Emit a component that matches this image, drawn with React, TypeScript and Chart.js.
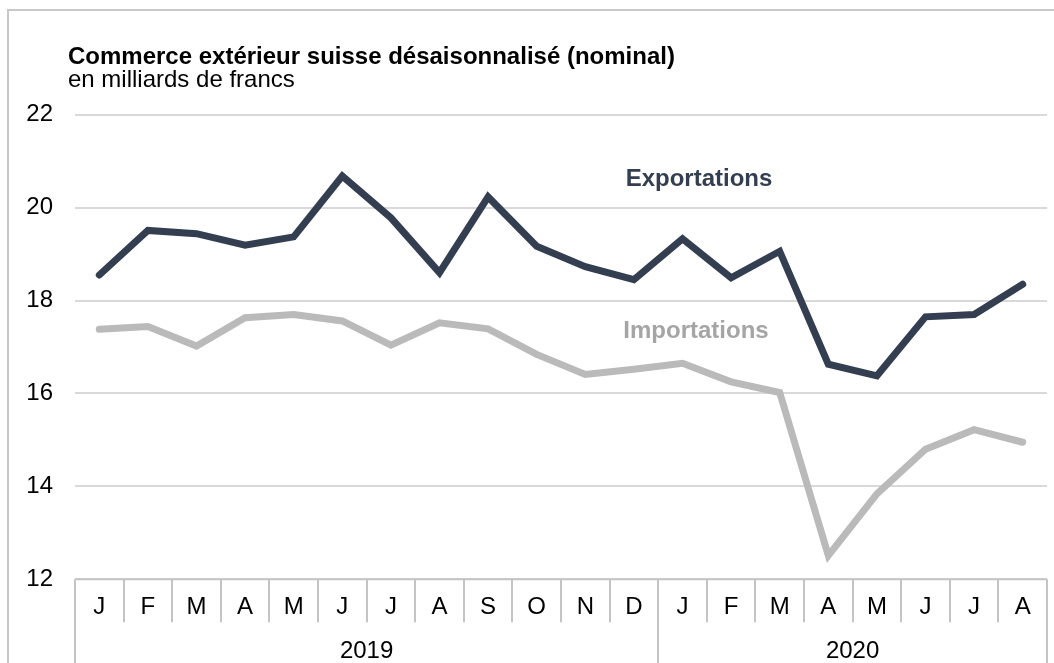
import React, { useEffect, useRef } from "react";
import { Chart, registerables } from "chart.js";

Chart.register(...registerables);

const months = ["J", "F", "M", "A", "M", "J", "J", "A", "S", "O", "N", "D", "J", "F", "M", "A", "M", "J", "J", "A"];
const years = ["2019", "2020"];
const yearSpans = [12, 8];
const exportations = [18.55, 19.51, 19.44, 19.19, 19.37, 20.68, 19.78, 18.6, 20.23, 19.17, 18.73, 18.45, 19.33, 18.49, 19.06, 16.63, 16.38, 17.65, 17.7, 18.35];
const importations = [17.38, 17.44, 17.02, 17.63, 17.7, 17.56, 17.04, 17.52, 17.39, 16.84, 16.41, 16.52, 16.65, 16.25, 16.02, 12.51, 13.84, 14.8, 15.22, 14.95];
const yTicks = [12, 14, 16, 18, 20, 22];

const FONT = "'Liberation Sans', Arial, sans-serif";
const EXP_COLOR = "#333f50";
const IMP_COLOR = "#bababa";

export default function App() {
  const ref = useRef<HTMLCanvasElement>(null);

  useEffect(() => {
    const canvas = ref.current;
    if (!canvas) return;

    const overlay = {
      id: "overlay",
      afterDraw(chart: any) {
        const ctx = chart.ctx;
        const area = chart.chartArea;
        const xs = chart.scales.x;
        const n = months.length;
        const catW = (area.right - area.left) / n;
        ctx.save();

        // outer frame
        ctx.strokeStyle = "#c8c8c8";
        ctx.lineWidth = 2;
        ctx.beginPath();
        ctx.moveTo(8, 663);
        ctx.lineTo(8, 10);
        ctx.lineTo(1054, 10);
        ctx.stroke();

        // x axis line & separators
        ctx.strokeStyle = "#c4c4c4";
        ctx.lineWidth = 2;
        ctx.beginPath();
        ctx.moveTo(area.left, area.bottom);
        ctx.lineTo(area.right, area.bottom);
        ctx.stroke();

        const yearBounds = new Set<number>();
        let acc = 0;
        yearBounds.add(0);
        yearSpans.forEach((s) => {
          acc += s;
          yearBounds.add(acc);
        });

        for (let i = 0; i <= n; i++) {
          const x = Math.round(area.left + i * catW);
          const bottom = yearBounds.has(i) ? 663 : area.bottom + 43;
          ctx.beginPath();
          ctx.moveTo(x, area.bottom);
          ctx.lineTo(x, bottom);
          ctx.stroke();
        }

        // month labels
        ctx.fillStyle = "#000";
        ctx.font = `24px ${FONT}`;
        ctx.textAlign = "center";
        ctx.textBaseline = "middle";
        months.forEach((m, i) => {
          ctx.fillText(m, xs.getPixelForValue(i), area.bottom + 28);
        });

        // year labels
        let start = 0;
        years.forEach((yr, k) => {
          const end = start + yearSpans[k];
          const cx = area.left + ((start + end) / 2) * catW;
          ctx.fillText(yr, cx, area.bottom + 72);
          start = end;
        });

        // title
        ctx.textAlign = "left";
        ctx.textBaseline = "alphabetic";
        ctx.font = `bold 24px ${FONT}`;
        ctx.fillText("Commerce extérieur suisse désaisonnalisé (nominal)", 68, 64);
        ctx.font = `24px ${FONT}`;
        ctx.fillText("en milliards de francs", 68, 87);

        // series labels
        ctx.textAlign = "center";
        ctx.font = `bold 24px ${FONT}`;
        ctx.fillStyle = EXP_COLOR;
        ctx.fillText("Exportations", 699, 186);
        ctx.fillStyle = "#a5a5a5";
        ctx.fillText("Importations", 696, 338);

        ctx.restore();
      },
    };

    const chart = new Chart(canvas, {
      type: "line",
      data: {
        labels: months,
        datasets: [
          {
            label: "Exportations",
            data: exportations,
            borderColor: EXP_COLOR,
            borderWidth: 7,
            pointRadius: 0,
            tension: 0,
            borderCapStyle: "round",
            borderJoinStyle: "miter",
          },
          {
            label: "Importations",
            data: importations,
            borderColor: IMP_COLOR,
            borderWidth: 7,
            pointRadius: 0,
            tension: 0,
            borderCapStyle: "round",
            borderJoinStyle: "miter",
          },
        ],
      },
      options: {
        responsive: false,
        animation: false,
        devicePixelRatio: 1,
        layout: { padding: { left: 0, right: 7, top: 114.7, bottom: 83.7 } },
        plugins: { legend: { display: false }, tooltip: { enabled: false }, title: { display: false } },
        scales: {
          x: { type: "category", offset: true, display: false },
          y: {
            min: 12,
            max: 22,
            afterFit: (s: any) => {
              s.width = 75;
            },
            afterBuildTicks: (s: any) => {
              s.ticks = yTicks.map((v) => ({ value: v }));
            },
            border: { display: false },
            grid: { color: "#d9d9d9", lineWidth: 2, drawTicks: false },
            ticks: { color: "#000", font: { size: 24, family: FONT }, padding: 22 },
          },
        },
      },
      plugins: [overlay],
    });

    return () => chart.destroy();
  }, []);

  return (
    <div style={{ position: "absolute", left: 0, top: 0, width: 1054, height: 663, background: "#fff" }}>
      <canvas ref={ref} width={1054} height={663} style={{ display: "block" }} />
    </div>
  );
}
